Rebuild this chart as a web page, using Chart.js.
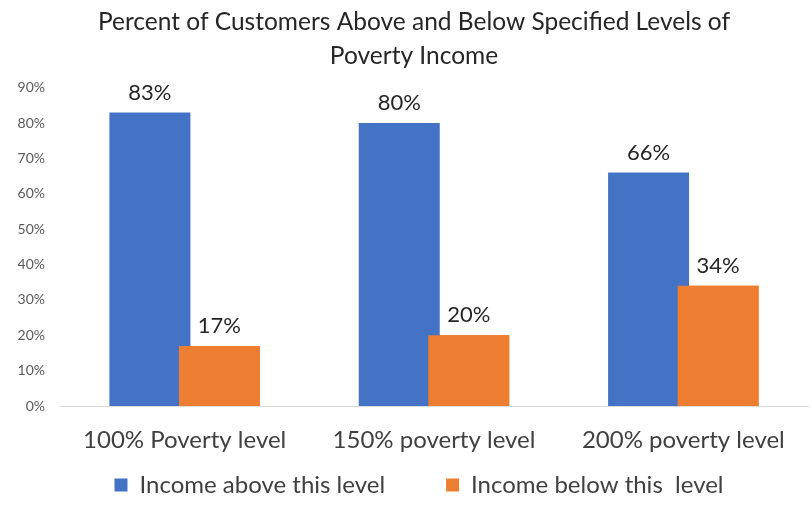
<!DOCTYPE html>
<html>
<head>
<meta charset="utf-8">
<script src="https://cdn.jsdelivr.net/npm/chart.js@4.4.0/dist/chart.umd.min.js"></script>
<style>
  html, body { margin: 0; padding: 0; background: #fff; }
</style>
</head>
<body>
<canvas id="povertyChart" width="812" height="510"></canvas>
<script>
const levels = ['100% Poverty level', '150% poverty level', '200% poverty level'];
const aboveLevel = [83, 80, 66];
const belowLevel = [17, 20, 34];
const seriesNames = ['Income above this level', 'Income below this  level'];
const yMax = 90;
const yStep = 10;

const fontFamily = 'Lato, "Open Sans", sans-serif';

// orange bars sit over the blue ones where they overlap, labels go on top
const overlapAndLabels = {
   id: 'overlapAndLabels',
   afterLayout(chart) {
      // title and legend sit a little right of the canvas centre
      chart.titleBlock.left += 10;
      chart.titleBlock.right += 10;
      chart.legend.left += 15;
      chart.legend.right += 15;
   },
   afterDatasetsDraw(chart) {
      const ctx = chart.ctx;
      chart.getDatasetMeta(1).controller.draw();
      ctx.save();
      ctx.font = '22px ' + fontFamily;
      ctx.fillStyle = '#262626';
      ctx.textAlign = 'center';
      ctx.textBaseline = 'middle';
      chart.data.datasets.forEach((ds, i) => {
         chart.getDatasetMeta(i).data.forEach((bar, j) => {
            ctx.fillText(ds.data[j] + '%', bar.x, bar.y - 20);
         });
      });
      ctx.restore();
   }
};

const ctx = document.getElementById('povertyChart').getContext('2d');
new Chart(ctx, {
   type: 'bar',
   data: {
      labels: levels,
      datasets: [{
         label: seriesNames[0],
         data: aboveLevel,
         backgroundColor: '#4472C4'
      }, {
         label: seriesNames[1],
         data: belowLevel,
         backgroundColor: '#ED7D31'
      }]
   },
   options: {
      responsive: false,
      animation: false,
      categoryPercentage: 0.5576,
      barPercentage: 1.165,
      layout: { padding: { left: 0, right: 4, top: 0, bottom: 3 } },
      scales: {
         x: {
            grid: { display: false, drawTicks: false },
            border: { display: true, color: '#D9D9D9', width: 1 },
            afterFit: scale => { scale.height = 49; },
            ticks: {
               padding: 20,
               color: '#404040',
               font: { family: fontFamily, size: 24 }
            }
         },
         y: {
            min: 0,
            max: yMax,
            grid: { display: false, drawTicks: false },
            border: { display: false },
            afterFit: scale => { scale.width = 60; },
            ticks: {
               stepSize: yStep,
               padding: 15,
               color: '#595959',
               font: { family: fontFamily, size: 14 },
               callback: v => v + '%'
            }
         }
      },
      plugins: {
         title: {
            display: true,
            text: ['Percent of Customers Above and Below Specified Levels of', 'Poverty Income'],
            color: '#262626',
            font: { family: fontFamily, size: 24.5, weight: 'normal', lineHeight: 1.39 },
            padding: { top: 5, bottom: 14.6 }
         },
         legend: {
            position: 'bottom',
            labels: {
               boxWidth: 13,
               boxHeight: 13,
               padding: 18,
               color: '#404040',
               font: { family: fontFamily, size: 24 },
               generateLabels: chart => {
                  const items = Chart.defaults.plugins.legend.labels.generateLabels(chart);
                  // wider gap after the first entry
                  items[0].text += '       ';
                  return items;
               }
            }
         },
         tooltip: { enabled: false }
      }
   },
   plugins: [overlapAndLabels]
});
</script>
</body>
</html>
